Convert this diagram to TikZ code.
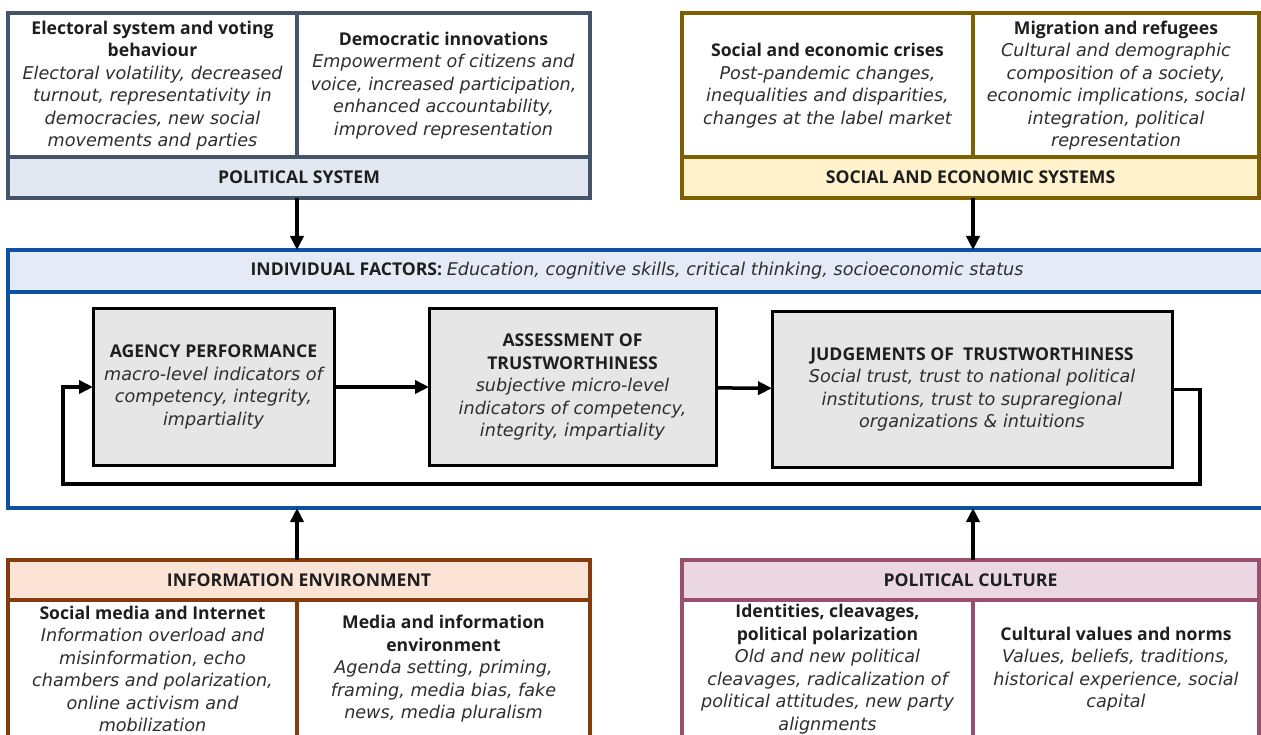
\documentclass[tikz,border=0pt]{standalone}
\usepackage{fontspec}
\setmainfont{Open Sans}
\newfontfamily\descfont{DejaVu Sans}
\usetikzlibrary{arrows.meta,positioning}
\definecolor{Ink}{HTML}{1E1E1E}
\definecolor{Soft}{HTML}{2E2E2E}
\definecolor{PolLine}{HTML}{44546A}
\definecolor{PolFill}{HTML}{E2E8F2}
\definecolor{SocLine}{HTML}{7F6000}
\definecolor{SocFill}{HTML}{FFF2CC}
\definecolor{IndLine}{HTML}{0B52A4}
\definecolor{IndFill}{HTML}{E4EBF6}
\definecolor{InfLine}{HTML}{843C0C}
\definecolor{InfFill}{HTML}{FBE4D5}
\definecolor{CulLine}{HTML}{99506F}
\definecolor{CulFill}{HTML}{EAD7E1}
\definecolor{BoxFill}{HTML}{E7E6E6}
\newcommand{\cellfont}{\fontsize{17.6}{22.5}\selectfont}
\newcommand{\hd}[1]{\textbf{#1}}
\newcommand{\desc}[1]{{\descfont\itshape\color{Soft}#1}}
\tikzset{
  cell/.style={draw=#1,fill=white,line width=3.5pt,outer sep=0pt,inner sep=0pt,minimum height=145pt,align=center,font=\cellfont,text=Ink},
  band/.style 2 args={draw=#1,fill=#2,line width=3.5pt,outer sep=0pt,inner sep=0pt,minimum height=41pt,align=center,font=\cellfont\bfseries,text=Ink},
  factor/.style={draw=black,fill=BoxFill,line width=3pt,outer sep=0pt,inner sep=0pt,minimum height=156pt,align=center,font=\cellfont,text=Ink},
  flow/.style={-{Triangle[length=14pt,width=13pt]},draw=black,line width=3.5pt}
}

\begin{document}
\begin{tikzpicture}[x=1pt,y=-1pt]
  \useasboundingbox (0,0) rectangle (1261,735);
  % political system
  \node[cell=PolLine,minimum width=289pt] (ps1) at (152.5,85.5)
    {\hd{Electoral system and voting}\\\hd{behaviour}\\\desc{Electoral volatility, decreased}\\\desc{turnout, representativity in}\\\desc{democracies, new social}\\\desc{movements and parties}};
  \node[cell=PolLine,minimum width=293pt,right=0pt of ps1] (ps2)
    {\hd{Democratic innovations}\\\desc{Empowerment of citizens and}\\\desc{voice, increased participation,}\\\desc{enhanced accountability,}\\\desc{improved representation}};
  \node[band={PolLine}{PolFill},minimum width=582pt] (ps) at (299,177.5) {POLITICAL SYSTEM};
  % social and economic systems
  \node[cell=SocLine,minimum width=291pt] (se1) at (827.5,85.5)
    {\hd{Social and economic crises}\\\desc{Post-pandemic changes,}\\\desc{inequalities and disparities,}\\\desc{changes at the label market}};
  \node[cell=SocLine,minimum width=286pt,right=0pt of se1] (se2)
    {\hd{Migration and refugees}\\\desc{Cultural and demographic}\\\desc{composition of a society,}\\\desc{economic implications, social}\\\desc{integration, political}\\\desc{representation}};
  \node[band={SocLine}{SocFill},minimum width=577pt] (se) at (970.5,177.5) {SOCIAL AND ECONOMIC SYSTEMS};
  % individual factors
  \node[draw=IndLine,line width=3.5pt,outer sep=0pt,minimum width=1258pt,minimum height=258pt] (indbox) at (637,379) {};
  \node[band={IndLine}{IndFill},minimum width=1258pt,minimum height=42pt,font=\cellfont] (ind) at (637,271)
    {\hd{INDIVIDUAL FACTORS:} \desc{Education, cognitive skills, critical thinking, socioeconomic status}};
  \node[factor,minimum width=241pt] (ap) at (213.5,387)
    {\hd{AGENCY PERFORMANCE}\\\desc{macro-level indicators of}\\\desc{competency, integrity,}\\\desc{impartiality}};
  \node[factor,minimum width=287pt] (at) at (572.5,387)
    {\hd{ASSESSMENT OF}\\\hd{TRUSTWORTHINESS}\\\desc{subjective micro-level}\\\desc{indicators of competency,}\\\desc{integrity, impartiality}};
  \node[factor,minimum width=400pt,minimum height=155pt] (jt) at (972,389.5)
    {\hd{JUDGEMENTS OF \ TRUSTWORTHINESS}\\\desc{Social trust, trust to national political}\\\desc{institutions, trust to supraregional}\\\desc{organizations \& intuitions}};
  \coordinate (lb) at (63,484);
  \draw[flow] (ap) -- (at);
  \draw[flow] (at) -- (jt);
  \draw[flow] (jt.east) -- ++(28,0) |- (lb) |- (ap.west);
  % information environment
  \node[band={InfLine}{InfFill},minimum width=582pt,minimum height=40pt] (ie) at (299,580) {INFORMATION ENVIRONMENT};
  \node[cell=InfLine,minimum width=289pt,minimum height=138pt] (ie1) at (152.5,669)
    {\hd{Social media and Internet}\\\desc{Information overload and}\\\desc{misinformation, echo}\\\desc{chambers and polarization,}\\\desc{online activism and}\\\desc{mobilization}};
  \node[cell=InfLine,minimum width=293pt,minimum height=138pt,right=0pt of ie1] (ie2)
    {\hd{Media and information}\\\hd{environment}\\\desc{Agenda setting, priming,}\\\desc{framing, media bias, fake}\\\desc{news, media pluralism}};
  % political culture
  \node[band={CulLine}{CulFill},minimum width=577pt,minimum height=40pt] (pc) at (970.5,580) {POLITICAL CULTURE};
  \node[cell=CulLine,minimum width=291pt,minimum height=138pt] (pc1) at (827.5,669)
    {\hd{Identities, cleavages,}\\\hd{political polarization}\\\desc{Old and new political}\\\desc{cleavages, radicalization of}\\\desc{political attitudes, new party}\\\desc{alignments}};
  \node[cell=CulLine,minimum width=286pt,minimum height=138pt,right=0pt of pc1] (pc2)
    {\hd{Cultural values and norms}\\\desc{Values, beliefs, traditions,}\\\desc{historical experience, social}\\\desc{capital}};
  % influences on the individual
  \draw[flow] (ps1.south east |- ps.south) -- (ps1.south east |- indbox.north);
  \draw[flow] (se1.south east |- se.south) -- (se1.south east |- indbox.north);
  \draw[flow] (ie1.north east |- ie.north) -- (ie1.north east |- indbox.south);
  \draw[flow] (pc1.north east |- pc.north) -- (pc1.north east |- indbox.south);
\end{tikzpicture}
\end{document}
